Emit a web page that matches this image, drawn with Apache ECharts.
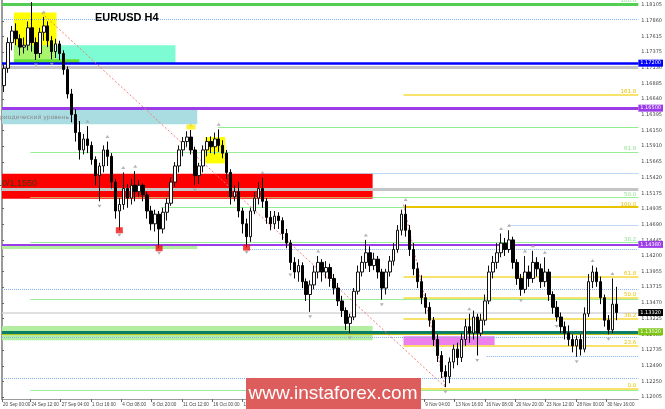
<!DOCTYPE html>
<html><head><meta charset="utf-8">
<script src="https://cdn.jsdelivr.net/npm/echarts@6/dist/echarts.min.js"></script>
<style>html,body{margin:0;padding:0;background:#fff}#c{width:665px;height:409px}</style>
</head><body><div id="c"></div>
<script>
// ---- data: [open, close, low, high] ----
const candles = [
[1.1685,1.1712,1.1675,1.1718],[1.1712,1.1752,1.1705,1.1760],[1.1752,1.1770,1.1740,1.1778],[1.1770,1.1758,1.1748,1.1782],
[1.1758,1.1745,1.1732,1.1765],[1.1745,1.1748,1.1735,1.1760],[1.1748,1.1775,1.1740,1.1785],[1.1775,1.1752,1.1738,1.1815],
[1.1752,1.1735,1.1725,1.1760],[1.1735,1.1768,1.1728,1.1775],[1.1768,1.1778,1.1755,1.1792],[1.1778,1.1755,1.1745,1.1785],
[1.1755,1.1738,1.1726,1.1762],[1.1738,1.1750,1.1728,1.1758],[1.1750,1.1735,1.1725,1.1755],[1.1735,1.1710,1.1702,1.1740],
[1.1710,1.1672,1.1665,1.1715],[1.1672,1.1640,1.1628,1.1680],[1.1640,1.1612,1.1598,1.1648],[1.1612,1.1585,1.1570,1.1630],
[1.1585,1.1602,1.1578,1.1610],[1.1602,1.1592,1.1580,1.1622],[1.1592,1.1570,1.1562,1.1598],[1.1570,1.1545,1.1530,1.1575],
[1.1545,1.1560,1.1505,1.1565],[1.1560,1.1585,1.1550,1.1592],[1.1585,1.1575,1.1560,1.1598],[1.1575,1.1535,1.1525,1.1580],
[1.1535,1.1490,1.1478,1.1540],[1.1490,1.1500,1.1460,1.1510],[1.1500,1.1525,1.1492,1.1550],[1.1525,1.1510,1.1495,1.1532],
[1.1510,1.1530,1.1500,1.1540],[1.1530,1.1520,1.1505,1.1552],[1.1520,1.1530,1.1512,1.1538],[1.1530,1.1515,1.1505,1.1533],
[1.1515,1.1490,1.1478,1.1520],[1.1490,1.1470,1.1460,1.1498],[1.1470,1.1485,1.1458,1.1492],[1.1485,1.1462,1.1432,1.1490],
[1.1462,1.1488,1.1455,1.1495],[1.1488,1.1502,1.1475,1.1510],[1.1502,1.1535,1.1498,1.1542],[1.1535,1.1560,1.1528,1.1566],
[1.1560,1.1585,1.1550,1.1592],[1.1585,1.1598,1.1575,1.1605],[1.1598,1.1605,1.1590,1.1614],[1.1605,1.1585,1.1578,1.1616],
[1.1585,1.1545,1.1530,1.1590],[1.1545,1.1560,1.1532,1.1565],[1.1560,1.1585,1.1550,1.1592],[1.1585,1.1598,1.1575,1.1605],
[1.1598,1.1590,1.1580,1.1606],[1.1590,1.1602,1.1578,1.1612],[1.1602,1.1592,1.1582,1.1617],[1.1592,1.1580,1.1572,1.1600],
[1.1580,1.1550,1.1540,1.1585],[1.1550,1.1512,1.1500,1.1555],[1.1512,1.1520,1.1505,1.1530],[1.1520,1.1490,1.1480,1.1535],
[1.1490,1.1470,1.1455,1.1495],[1.1470,1.1450,1.1433,1.1478],[1.1450,1.1490,1.1442,1.1495],[1.1490,1.1510,1.1485,1.1520],
[1.1510,1.1525,1.1500,1.1535],[1.1525,1.1505,1.1495,1.1542],[1.1505,1.1480,1.1470,1.1510],[1.1480,1.1470,1.1460,1.1490],
[1.1470,1.1482,1.1462,1.1490],[1.1482,1.1475,1.1462,1.1488],[1.1475,1.1455,1.1445,1.1480],[1.1455,1.1440,1.1432,1.1462],
[1.1440,1.1410,1.1398,1.1445],[1.1410,1.1395,1.1385,1.1418],[1.1395,1.1405,1.1380,1.1415],[1.1405,1.1380,1.1370,1.1410],
[1.1380,1.1360,1.1350,1.1385],[1.1360,1.1375,1.1333,1.1382],[1.1375,1.1395,1.1368,1.1405],[1.1395,1.1410,1.1385,1.1420],
[1.1410,1.1395,1.1380,1.1415],[1.1395,1.1402,1.1385,1.1412],[1.1402,1.1385,1.1372,1.1408],[1.1385,1.1370,1.1360,1.1392],
[1.1370,1.1350,1.1342,1.1378],[1.1350,1.1335,1.1325,1.1358],[1.1335,1.1315,1.1305,1.1340],[1.1315,1.1325,1.1300,1.1330],
[1.1325,1.1365,1.1320,1.1370],[1.1365,1.1395,1.1360,1.1405],[1.1395,1.1410,1.1388,1.1420],[1.1410,1.1425,1.1400,1.1445],
[1.1425,1.1405,1.1395,1.1435],[1.1405,1.1415,1.1398,1.1425],[1.1415,1.1395,1.1385,1.1420],[1.1395,1.1370,1.1352,1.1400],
[1.1370,1.1395,1.1360,1.1400],[1.1395,1.1412,1.1388,1.1420],[1.1412,1.1430,1.1405,1.1440],[1.1430,1.1460,1.1425,1.1468],
[1.1460,1.1485,1.1452,1.1492],[1.1485,1.1460,1.1450,1.1500],[1.1460,1.1430,1.1420,1.1468],[1.1430,1.1400,1.1390,1.1440],
[1.1400,1.1380,1.1370,1.1410],[1.1380,1.1355,1.1345,1.1390],[1.1355,1.1340,1.1330,1.1362],[1.1340,1.1320,1.1310,1.1348],
[1.1320,1.1290,1.1280,1.1325],[1.1290,1.1265,1.1255,1.1298],[1.1265,1.1240,1.1230,1.1272],[1.1240,1.1232,1.1216,1.1250],
[1.1232,1.1255,1.1222,1.1262],[1.1255,1.1275,1.1245,1.1282],[1.1275,1.1262,1.1250,1.1285],[1.1262,1.1290,1.1255,1.1300],
[1.1290,1.1310,1.1280,1.1322],[1.1310,1.1300,1.1285,1.1330],[1.1300,1.1325,1.1290,1.1335],[1.1325,1.1300,1.1265,1.1330],
[1.1300,1.1320,1.1295,1.1330],[1.1320,1.1350,1.1312,1.1360],[1.1350,1.1395,1.1345,1.1405],[1.1395,1.1410,1.1385,1.1420],
[1.1410,1.1425,1.1400,1.1440],[1.1425,1.1440,1.1418,1.1455],[1.1440,1.1430,1.1420,1.1448],[1.1430,1.1445,1.1425,1.1460],
[1.1445,1.1410,1.1400,1.1450],[1.1410,1.1385,1.1375,1.1415],[1.1385,1.1368,1.1358,1.1392],[1.1368,1.1395,1.1362,1.1420],
[1.1395,1.1385,1.1372,1.1405],[1.1385,1.1410,1.1378,1.1428],[1.1410,1.1400,1.1388,1.1418],[1.1400,1.1380,1.1370,1.1408],
[1.1380,1.1395,1.1372,1.1418],[1.1395,1.1360,1.1350,1.1400],[1.1360,1.1340,1.1330,1.1365],[1.1340,1.1325,1.1318,1.1350],
[1.1325,1.1310,1.1300,1.1332],[1.1310,1.1300,1.1290,1.1318],[1.1300,1.1290,1.1280,1.1312],[1.1290,1.1280,1.1270,1.1298],
[1.1280,1.1290,1.1263,1.1296],[1.1290,1.1275,1.1265,1.1298],[1.1275,1.1330,1.1270,1.1340],[1.1330,1.1380,1.1325,1.1392],
[1.1380,1.1395,1.1370,1.1405],[1.1395,1.1380,1.1372,1.1402],[1.1380,1.1355,1.1345,1.1388],[1.1355,1.1320,1.1310,1.1360],
[1.1320,1.1305,1.1298,1.1328],[1.1305,1.1345,1.1300,1.1385],[1.1345,1.1332,1.1320,1.1372]
];
const emptySlots = ['e1','e2','e3','e4','e5'];
const fractalUp = [7,10,21,26,30,33,47,54,65,79,91,101,117,125,127,131,133,136,148,153];
const fractalDown = [8,12,24,29,39,48,61,72,77,87,95,111,119,130,139,144,152];
const redMarks = [29,39,61];
const yellowMarks = [47];

const priceTicks = [1.18105,1.17860,1.17615,1.17375,1.17130,1.16885,1.16640,1.16395,1.16150,1.15910,1.15665,1.15420,1.15175,1.14935,1.14690,1.14445,1.14200,1.13955,1.13715,1.13470,1.13225,1.12980,1.12735,1.12490,1.12250,1.12005];
const timeLabels = ['20 Sep 00:00','24 Sep 12:00','27 Sep 04:00','1 Oct 16:00','4 Oct 08:00','8 Oct 20:00','11 Oct 12:00','16 Oct 00:00','18 Oct 16:00','23 Oct 04:00','25 Oct 20:00','30 Oct 08:00','2 Nov 00:00','6 Nov 12:00','9 Nov 04:00','13 Nov 16:00','16 Nov 08:00','20 Nov 20:00','23 Nov 12:00','28 Nov 00:00','30 Nov 16:00'];
const timeLabelBars = [0,15,31,47,63,79,95,111,127,143,159,175,191,207,223,239,255,271,287,303,319];
const timeBarsTotal = 336;

// fibonacci levels
const greenFibLevels = [1.1211,1.1353,1.1441,1.15115,1.1582,1.1812];
const greenFibNames  = ['','','38.2','50.0','61.8','100.0'];
const greenFibStart = 15;
const yellowFibLevels = [1.1213,1.1281,1.1322,1.1355,1.1388,1.1496,1.1671];
const yellowFibNames  = ['0.0','23.6','38.2','50.0','61.8','100.0','161.8'];
const yellowFibStart = 212;

// other horizontal levels
const blueLevel = 1.1720;
const purpleLevels = [1.1650,1.1438];
const grayLevels = [1.1714,1.1524];
const supportLevel = 1.1302;
const supportLevel2 = 1.1298;
const dottedLevels = [1.1789,1.1548,1.1468,1.1430,1.1368,1.1294,1.1264,1.1230];
const dottedStarts = [0,137,268,130,0,0,256,0];
const extraGreenLevels = [1.1620,1.1496];
const extraGreenRanges = [[114,336],[84,212]];

// zones: [fromBar, toBar, lowPrice, highPrice]
const zoneAqua = [6.3,91.6,1.1720,1.1748];
const zoneYellow1 = [6.3,28.8,1.1748,1.1799];
const zoneOverlap = [6.3,28.8,1.1726,1.1748];
const zoneLime = [6.3,40.8,1.1720,1.1726];
const zonePowder = [0,103.1,1.1625,1.1647];
const zoneYellow2 = [107.3,117.8,1.1564,1.1605];
const zoneRed = [0,195.7,1.1509,1.1548];
const zoneGreenThin = [0,103.1,1.1431,1.1437];
const zoneGreen = [0,195.7,1.1289,1.1311];
const zoneMagenta = [212,260.1,1.1281,1.1295];

// trend lines: [[bar, price],[bar, price]]
const trendLines = [[[21,1.1798],[234,1.1216]],[[212,1.1500],[234,1.1216]]];

// ---- build ----
const lastClose = candles[candles.length-1][1];
const cats = candles.map((c,i)=>'c'+i).concat(emptySlots);

function hline(y, x0, x1, color, width, type, label) {
  return [{coord:[x0,y], lineStyle:{color:color,width:width,type:type||'solid'}, label: label||{show:false}}, {coord:[x1,y]}];
}
function zone(z, color) {
  return [{coord:[z[0],z[3]], itemStyle:{color:color}}, {coord:[z[1],z[2]]}];
}
function boxLabel(bg, txt) {
  return {show:true, position:'end', formatter: txt, backgroundColor:bg, color:'#fff', fontSize:5, padding:[1,2,1,2], distance:0, fontFamily:'DejaVu Sans'};
}
function fibLabel(color, txt) {
  return {show: txt !== '', position:'insideEndTop', formatter: txt, color:color, fontSize:5.5, distance:[2,0], fontFamily:'DejaVu Sans'};
}

const areaData = [
  zone(zoneAqua,'#7dfbd2'), zone(zoneYellow1,'#ffff00'), zone(zoneOverlap,'#a8f46c'), zone(zoneLime,'#66e02c'),
  zone(zonePowder,'#a9dde2'), zone(zoneYellow2,'#ffff00'), zone(zoneRed,'#ff0000'),
  zone(zoneGreenThin,'#b3eea0'), zone(zoneGreen,'#b3eea0'), zone(zoneMagenta,'#ee80ee')
];

const lineData = [];
dottedLevels.forEach((v,i)=>lineData.push(hline(v, dottedStarts[i], timeBarsTotal, '#7fb2ee', 1, 'dotted')));
extraGreenLevels.forEach((v,i)=>lineData.push(hline(v, extraGreenRanges[i][0], extraGreenRanges[i][1], '#90ee90', 1)));
greenFibLevels.forEach((v,i)=>{
  const top = i === greenFibLevels.length-1;
  lineData.push(hline(v, top?0:greenFibStart, timeBarsTotal, top?'#52cf52':'#98ee98', top?3:1.2, 'solid', fibLabel('#8fe08f', greenFibNames[i])));
});
lineData.push(hline(greenFibLevels[3], greenFibStart, zoneRed[1], '#d99a55', 1.2));
grayLevels.forEach(v=>lineData.push(hline(v, 0, timeBarsTotal, '#c4c4c4', 3)));
lineData.push(hline(lastClose, 0, timeBarsTotal, '#d6d6d6', 1.5, 'solid', boxLabel('#000', lastClose.toFixed(5))));
yellowFibLevels.forEach((v,i)=>lineData.push(hline(v, yellowFibStart, timeBarsTotal, i===5?'#e8c400':'#f4d83a', i===5?2:1.5, 'solid', fibLabel('#e6c200', yellowFibNames[i]))));
lineData.push(hline(supportLevel, 0, timeBarsTotal, '#0b7f66', 3, 'solid', boxLabel('#7cc511', (supportLevel).toFixed(5))));
lineData.push(hline(supportLevel2, 0, timeBarsTotal, '#b9c020', 1));
lineData.push(hline(blueLevel, 0, timeBarsTotal, '#0000ff', 2.5, 'solid', boxLabel('#0000ff', blueLevel.toFixed(5))));
purpleLevels.forEach((v,i)=>lineData.push(hline(v, 0, timeBarsTotal, '#9b3ce8', i===0?3:2, 'solid', boxLabel('#9b3ce8', v.toFixed(5)))));
trendLines.forEach(t=>lineData.push([{coord:t[0], lineStyle:{color:'#f47a7a',width:1,type:[2,2]}, label:{show:false}},{coord:t[1]}]));

const upPts = fractalUp.map(i=>[i, candles[i][3]]);
const dnPts = fractalDown.map(i=>[i, candles[i][2]]);
const redPts = redMarks.map(i=>[i, candles[i][2]]);
const yelPts = yellowMarks.map(i=>[i, candles[i][3]]);

const chart = echarts.init(document.getElementById('c'), null, {renderer:'canvas'});
chart.setOption({
  animation:false,
  backgroundColor:'#ffffff',
  grid:{left:0, right:23, top:0, bottom:10, containLabel:false},
  xAxis:[
    {type:'category', data:cats, show:false, boundaryGap:true, gridIndex:0},
    {type:'value', min:0, max:timeBarsTotal, position:'bottom', offset:0,
     axisLine:{show:true, onZero:false, lineStyle:{color:'#9a9a9a', width:1}},
     axisTick:{show:true, customValues:timeLabelBars, length:3, lineStyle:{color:'#666'}},
     axisLabel:{show:true, customValues:timeLabelBars, showMinLabel:true, hideOverlap:false, formatter:v=>timeLabels[timeLabelBars.indexOf(Math.round(v))]||'', align:'left', fontSize:4.6, color:'#444', margin:3, padding:[0,0,0,1], fontFamily:'Liberation Sans'},
     splitLine:{show:false}}
  ],
  yAxis:{type:'value', position:'right', min:1.11974, max:1.18183,
    axisLine:{show:true, lineStyle:{color:'#9a9a9a', width:2}},
    axisTick:{show:true, customValues:priceTicks, length:2, lineStyle:{color:'#666'}},
    axisLabel:{customValues:priceTicks, formatter:v=>v.toFixed(5), fontSize:5, color:'#444', margin:3, fontFamily:'DejaVu Sans'},
    splitLine:{show:false}},
  series:[
    {type:'line', xAxisIndex:1, yAxisIndex:0, data:[], z:1, silent:true,
     markArea:{silent:true, data:areaData}},
    {type:'line', xAxisIndex:1, yAxisIndex:0, data:[], z:2, silent:true,
     markLine:{silent:true, symbol:['none','none'], animation:false, data:lineData}},
    {type:'candlestick', xAxisIndex:0, yAxisIndex:0, data:candles, z:5, barWidth:3,
     itemStyle:{color:'#ffffff', color0:'#000000', borderColor:'#111', borderColor0:'#000', borderWidth:1}},
    {type:'scatter', xAxisIndex:0, data:upPts, symbol:'triangle', symbolSize:[4,3], symbolOffset:[0,-5], itemStyle:{color:'#a0a0a0'}, z:6},
    {type:'scatter', xAxisIndex:0, data:dnPts, symbol:'triangle', symbolRotate:180, symbolSize:[4,3], symbolOffset:[0,5], itemStyle:{color:'#a0a0a0'}, z:6},
    {type:'scatter', xAxisIndex:0, data:redPts, symbol:'rect', symbolSize:[7,6], itemStyle:{color:'#ee1111'}, z:6},
    {type:'scatter', xAxisIndex:0, data:yelPts, symbol:'rect', symbolSize:[9,5], symbolOffset:[0,-3], itemStyle:{color:'#ffee00'}, z:6}
  ],
  graphic:[
    {type:'text', left:95, top:12, z:20, style:{text:'EURUSD H4', font:'bold 11px "Liberation Sans", Arial, sans-serif', fill:'#000'}},
    {type:'text', left:0, top:114, z:20, style:{text:'риодический уровень', font:'6px "DejaVu Sans", sans-serif', fill:'#8a8a8a'}},
    {type:'text', left:-3, top:179, z:20, style:{text:'10/1,1550', font:'9px "Liberation Sans", Arial, sans-serif', fill:'#3a3a12'}},
    {type:'rect', left:246, top:378, z:30, shape:{width:175, height:31}, style:{fill:'#dd5d5d'}},
    {type:'text', x:333, y:394, z:31, style:{text:'www.instaforex.com', font:'19px "Liberation Sans", Arial, sans-serif', fill:'#ffffff', align:'center', verticalAlign:'middle'}}
  ]
});
</script>
</body></html>
